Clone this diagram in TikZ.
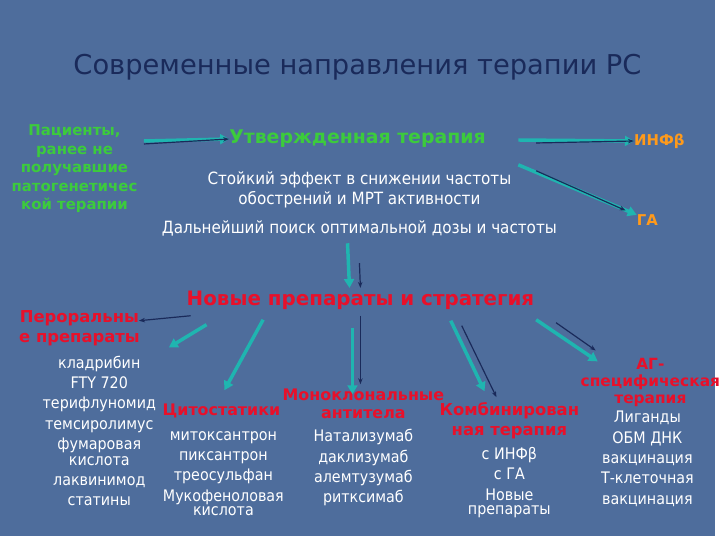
\documentclass[tikz,border=0pt]{standalone}
\usepackage{fontspec}
\setmainfont{DejaVu Sans}
\newfontfamily\cond{DejaVu Sans Condensed}
\usetikzlibrary{arrows.meta}
\definecolor{bg}{HTML}{4E6D9C}
\definecolor{navy}{HTML}{1A2A5A}
\definecolor{teal}{HTML}{1FB5B0}
\definecolor{grn}{HTML}{3CCB3C}
\definecolor{org}{HTML}{FF9A1A}
\definecolor{rd}{HTML}{E8102A}
\begin{document}
\begin{tikzpicture}[x=1pt,y=-1pt,
  wt/.style={text=white,font=\cond\fontsize{16}{20.5}\selectfont,align=center,inner sep=0},
  gb/.style={text=grn,font=\bfseries\fontsize{15}{18.5}\selectfont,align=center,inner sep=0},
  rb/.style={text=rd,font=\bfseries\fontsize{16}{20}\selectfont,align=center,inner sep=0},
  ob/.style={text=org,font=\bfseries\fontsize{15}{18}\selectfont,inner sep=0},
  ta/.style={teal,line width=3.5pt,-{Triangle[length=9pt,width=10pt]}},
  na/.style={navy,line width=1.2pt,-{Stealth[length=6pt]}}]
\fill[bg] (0,0) rectangle (720,540);
\node[text=navy,font=\fontsize{27.5}{30}\selectfont] (title) at (360,68) {Современные направления терапии РС};
\node[gb] (pat) at (75,170) {Пациенты,\\ранее не\\получавшие\\патогенетичес\\кой терапии};
\node[gb,font=\bfseries\fontsize{19}{20}\selectfont] (utv) at (360,140) {Утвержденная терапия};
\node[ob] (inf) at (664,142) {ИНФβ};
\node[ob] (ga) at (652,222) {ГА};
\node[wt,font=\cond\fontsize{17}{20}\selectfont] (eff) at (362,191) {Стойкий эффект в снижении частоты\\обострений и МРТ активности};
\node[wt,font=\cond\fontsize{17}{20}\selectfont] (poisk) at (362,230) {Дальнейший поиск оптимальной дозы и частоты};
\node[rb,font=\bfseries\fontsize{20}{20}\selectfont] (new) at (363,302) {Новые препараты и стратегия};
\node[rb,font=\bfseries\fontsize{16.5}{20}\selectfont] (per) at (80,331) {Пероральны\\е препараты};
\node[wt] (l1) at (100,434) {кладрибин\\FTY 720\\терифлуномид\\темсиролимус\\фумаровая\\[-5pt]кислота\\лаквинимод\\статины};
\node[rb] (cyt) at (223,414) {Цитостатики};
\node[wt] (l2) at (225,477) {митоксантрон\\пиксантрон\\треосульфан\\Мукофеноловая\\[-6pt]кислота};
\node[rb,font=\bfseries\fontsize{16}{18}\selectfont] (mono) at (366,407) {Моноклональные\\антитела};
\node[wt] (l3) at (366,471) {Натализумаб\\даклизумаб\\алемтузумаб\\ритксимаб};
\node[rb,font=\bfseries\fontsize{16.5}{20}\selectfont] (comb) at (513,424) {Комбинирован\\ная терапия};
\node[wt] (l4) at (513,486) {с ИНФβ\\с ГА\\Новые\\[-6pt]препараты};
\node[rb,font=\bfseries\fontsize{15.5}{17}\selectfont] (ag) at (655,385) {АГ-\\специфическая\\терапия};
\node[wt] (l5) at (652,462) {Лиганды\\ОБМ ДНК\\вакцинация\\Т-клеточная\\вакцинация};
% arrows
\draw[ta] (145,142) -- (utv.west);
\draw[na] (145,145) -- (utv.west);
\draw[ta] (522,141) -- (inf.west);
\draw[na] (540,144) -- (inf.west);
\draw[ta] (522,166) -- (ga.north west);
\draw[na] (540,172) -- (630,212);
\draw[ta] (350,245) -- (352,290);
\draw[na] (362,265) -- (363,290);
\draw[na] (192,318) -- (140,323);
\draw[ta] (208,327) -- (170,350);
\draw[ta] (265,322) -- (226,393);
\draw[ta] (355,330) -- (355,397);
\draw[na] (363,318) -- (363,387);
\draw[ta] (454,323) -- (488,394);
\draw[na] (465,328) -- (500,400);
\draw[ta] (540,322) -- (602,364);
\draw[na] (560,325) -- (600,353);
\end{tikzpicture}
\end{document}
